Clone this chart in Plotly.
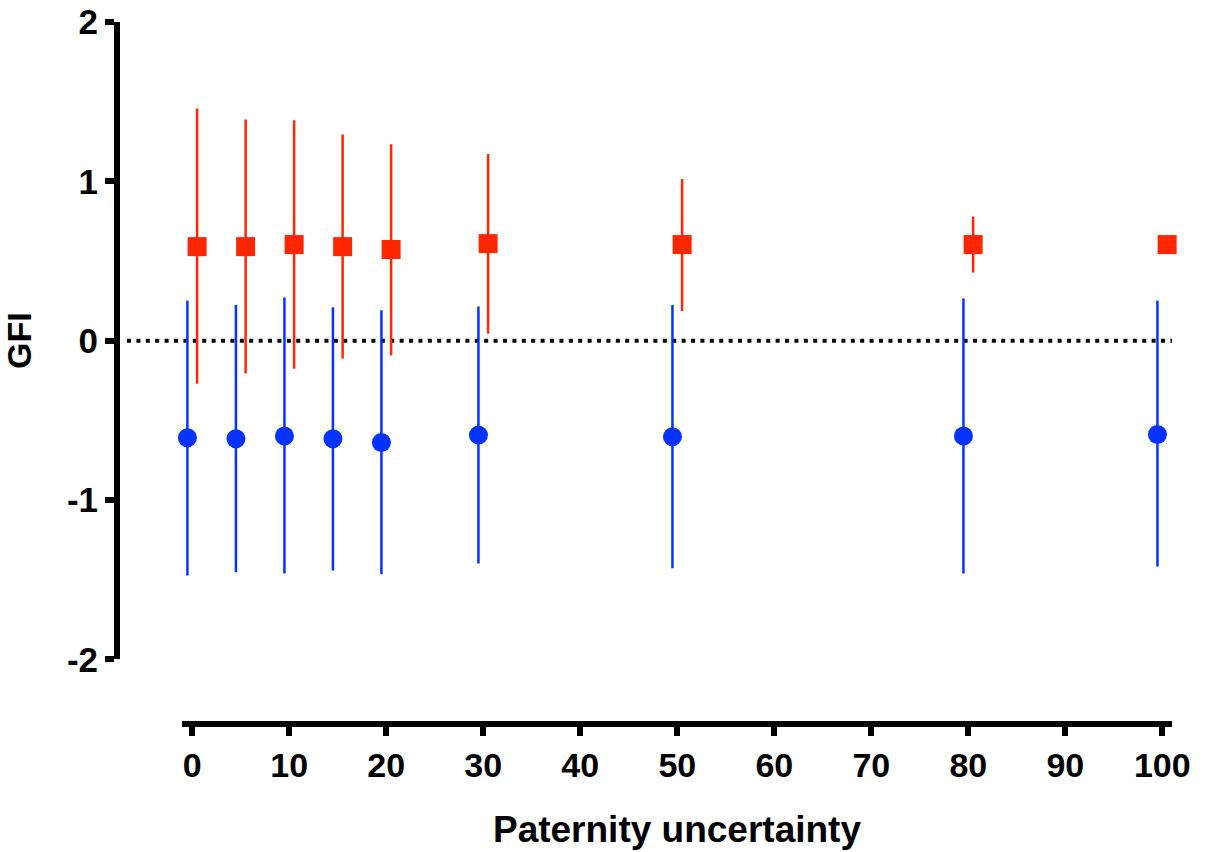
import plotly.graph_objects as go

# Data
uncertainty = [0, 5, 10, 15, 20, 30, 50, 80, 100]

blue_mean = [-0.609, -0.616, -0.599, -0.616, -0.639, -0.593, -0.603, -0.599, -0.589]
blue_upper = [0.25, 0.224, 0.27, 0.21, 0.19, 0.214, 0.224, 0.264, 0.251]
blue_lower = [-1.474, -1.453, -1.462, -1.443, -1.466, -1.399, -1.428, -1.462, -1.418]

red_mean = [0.590, 0.590, 0.603, 0.590, 0.572, 0.609, 0.603, 0.603, 0.603]
red_upper = [1.457, 1.388, 1.384, 1.294, 1.233, 1.172, 1.015, 0.779, 0.64]
red_lower = [-0.270, -0.207, -0.176, -0.113, -0.092, 0.044, 0.186, 0.427, 0.57]

x_ticks = [0, 10, 20, 30, 40, 50, 60, 70, 80, 90, 100]
y_ticks = [-2, -1, 0, 1, 2]

BLUE = "#0433FF"
RED = "#FF2600"
FONT = "Liberation Sans, Arial, sans-serif"

fig = go.Figure()

fig.add_trace(go.Scatter(
    x=[v - 0.5 for v in uncertainty],
    y=blue_mean,
    mode="markers",
    cliponaxis=False,
    marker=dict(symbol="circle", size=19, color=BLUE),
    error_y=dict(type="data", symmetric=False,
                 array=[u - m for u, m in zip(blue_upper, blue_mean)],
                 arrayminus=[m - l for m, l in zip(blue_mean, blue_lower)],
                 thickness=2.5, width=0, color=BLUE),
    showlegend=False,
))

fig.add_trace(go.Scatter(
    x=[v + 0.5 for v in uncertainty],
    y=red_mean,
    mode="markers",
    cliponaxis=False,
    marker=dict(symbol="square", size=19, color=RED),
    error_y=dict(type="data", symmetric=False,
                 array=[u - m for u, m in zip(red_upper, red_mean)],
                 arrayminus=[m - l for m, l in zip(red_mean, red_lower)],
                 thickness=2.5, width=0, color=RED),
    showlegend=False,
))

fig.add_shape(type="line", xref="paper", yref="y",
              x0=0.0095, x1=1.0, y0=0, y1=0,
              line=dict(color="black", width=4, dash="4px,5.4px"),
              layer="below")

fig.update_layout(
    width=1207, height=852,
    margin=dict(l=117, r=35, t=22, b=128),
    paper_bgcolor="white", plot_bgcolor="white",
    font=dict(family=FONT, color="black"),
    xaxis=dict(
        domain=[0.0616, 1.0], range=[-1.06, 101.0],
        anchor="free", position=0, automargin=False,
        tickvals=x_ticks, ticktext=[str(t) for t in x_ticks],
        ticks="outside", ticklen=9, tickwidth=6, tickcolor="black",
        showline=True, linewidth=6, linecolor="black",
        showgrid=False, zeroline=False,
        tickfont=dict(family=FONT, size=34, weight="bold"),
        title=dict(text="Paternity uncertainty", standoff=32,
                   font=dict(family=FONT, size=37, weight="bold")),
    ),
    yaxis=dict(
        domain=[0.0922, 1.0], range=[-2, 2],
        anchor="free", position=0, automargin=False,
        tickvals=y_ticks, ticktext=[str(t) for t in y_ticks],
        ticks="outside", ticklen=9, tickwidth=6, tickcolor="black",
        showline=True, linewidth=6, linecolor="black",
        showgrid=False, zeroline=False,
        tickfont=dict(family=FONT, size=35, weight="bold"),
        title=dict(text="GFI", standoff=26,
                   font=dict(family=FONT, size=34, weight="bold")),
    ),
)

fig.write_html("out.html")
